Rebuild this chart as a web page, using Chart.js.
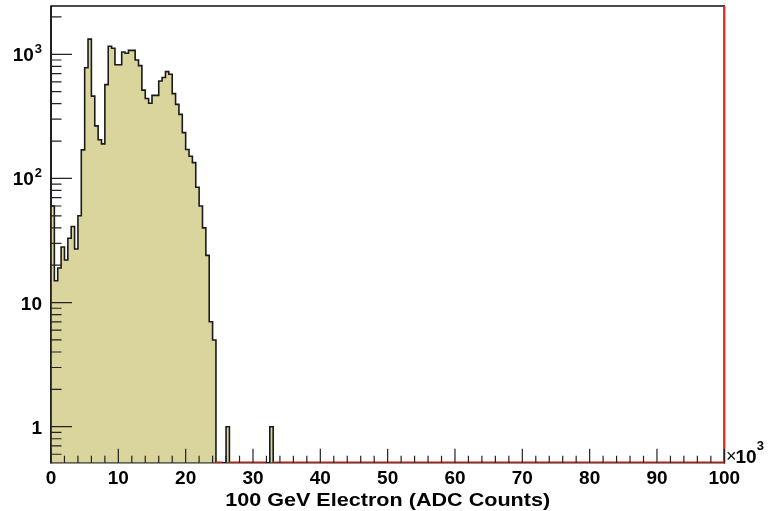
<!DOCTYPE html>
<html><head><meta charset="utf-8">
<script src="https://cdn.jsdelivr.net/npm/chart.js@4/dist/chart.umd.min.js"></script>
<style>html,body{margin:0;padding:0;background:#fff;overflow:hidden}</style>
</head><body>
<canvas id="c" width="773" height="511"></canvas>
<script>
// ---- data (x in units of 10^3 ADC counts) ----
const xLow = 0;
const xHigh = 100;
const binWidth = 0.5;
const counts = [
  60, 15, 19, 28, 22, 33, 41, 27, 50, 170,
  780, 1325, 460, 265, 205, 190, 570, 1160, 1120, 825,
  825, 1045, 1020, 1075, 1075, 900, 810, 515, 440, 403,
  467, 467, 610, 650, 725, 690, 482, 395, 328, 234,
  171, 151, 134, 85, 60, 40, 24, 7, 5, 0,
  0, 0, 1, 0, 0, 0, 0, 0, 0, 0,
  0, 0, 0, 0, 0, 1, 0, 0, 0, 0,
  0, 0, 0, 0, 0, 0, 0, 0, 0, 0,
  0, 0, 0, 0, 0, 0, 0, 0, 0, 0,
  0, 0, 0, 0, 0, 0, 0, 0, 0, 0,
  0, 0, 0, 0, 0, 0, 0, 0, 0, 0,
  0, 0, 0, 0, 0, 0, 0, 0, 0, 0,
  0, 0, 0, 0, 0, 0, 0, 0, 0, 0,
  0, 0, 0, 0, 0, 0, 0, 0, 0, 0,
  0, 0, 0, 0, 0, 0, 0, 0, 0, 0,
  0, 0, 0, 0, 0, 0, 0, 0, 0, 0,
  0, 0, 0, 0, 0, 0, 0, 0, 0, 0,
  0, 0, 0, 0, 0, 0, 0, 0, 0, 0,
  0, 0, 0, 0, 0, 0, 0, 0, 0, 0,
  0, 0, 0, 0, 0, 0, 0, 0, 0, 0
];
const xTickValues = [0, 10, 20, 30, 40, 50, 60, 70, 80, 90, 100];
const xTickLabels = ['0', '10', '20', '30', '40', '50', '60', '70', '80', '90', '100'];
const yTickValues = [1, 10, 100, 1000];
const yTickBase = ['1', '10', '10', '10'];
const yTickExp = ['', '', '2', '3'];
const xTitle = '100 GeV Electron (ADC Counts)';
const yMin = 0.513;
const yMax = 2450;

// ---- log scale that keeps empty bins (drawn at the axis floor) ----
class ZeroLogScale extends Chart.LogarithmicScale {
  parse(raw, index) {
    if (raw === 0) return 0;
    return super.parse(raw, index);
  }
}
ZeroLogScale.id = 'zerolog';
ZeroLogScale.defaults = Chart.LogarithmicScale.defaults;
Chart.register(ZeroLogScale);

const points = counts.map((c, i) => ({ x: xLow + i * binWidth, y: c }));
points.push({ x: xHigh, y: counts[counts.length - 1] });

const FONT = '"Liberation Sans", Arial, Helvetica, sans-serif';
const RED = '#e3261b';

const rootAxes = {
  id: 'rootAxes',
  beforeDatasetsDraw(chart) {
    const { ctx, chartArea: a } = chart;
    ctx.save();
    ctx.strokeStyle = '#111';
    ctx.lineWidth = 1.5;
    ctx.strokeRect(a.left, a.top, a.right - a.left, a.bottom - a.top);
    ctx.restore();
  },
  afterDatasetsDraw(chart) {
    const { ctx, chartArea: a, scales: { x, y } } = chart;
    ctx.save();
    ctx.strokeStyle = '#111';
    ctx.lineWidth = 1.5;
    ctx.beginPath(); ctx.moveTo(a.left, a.top); ctx.lineTo(a.left, a.bottom + 0.75); ctx.stroke();
    ctx.strokeStyle = RED; ctx.lineWidth = 2;
    ctx.beginPath(); ctx.moveTo(a.right, a.top); ctx.lineTo(a.right, a.bottom + 1); ctx.stroke();

    // inward ticks
    ctx.strokeStyle = '#222'; ctx.lineWidth = 1.2;
    ctx.beginPath();
    for (let v = xLow; v <= xHigh; v += 2) {
      const px = x.getPixelForValue(v);
      const len = (v % 10 === 0) ? 14 : 7;
      ctx.moveTo(px, a.bottom); ctx.lineTo(px, a.bottom - len);
    }
    for (let d = 0.1; d <= 1000; d *= 10) {
      for (let m = 1; m <= 9; m++) {
        const v = m * d;
        if (v < yMin || v > yMax) continue;
        const py = y.getPixelForValue(v);
        const len = m === 1 ? 21 : 10.5;
        ctx.moveTo(a.left, py); ctx.lineTo(a.left + len, py);
      }
    }
    ctx.stroke();
    ctx.restore();
  },
  afterDraw(chart) {
    const { ctx, chartArea: a, scales: { x, y } } = chart;
    ctx.save();
    ctx.fillStyle = '#000';
    // x tick labels
    ctx.font = 'bold 19px ' + FONT;
    ctx.textAlign = 'center';
    ctx.textBaseline = 'alphabetic';
    xTickValues.forEach((v, i) => {
      ctx.fillText(xTickLabels[i], x.getPixelForValue(v), 483.5);
    });
    // x title (stretched to the reference width)
    ctx.font = 'bold 19px ' + FONT;
    const tw = ctx.measureText(xTitle).width;
    ctx.save();
    ctx.translate((a.left + a.right) / 2, 506);
    ctx.scale(325 / tw, 1);
    ctx.fillText(xTitle, 0, 0);
    ctx.restore();
    // y tick labels
    yTickValues.forEach((v, i) => {
      const py = y.getPixelForValue(v);
      ctx.textAlign = 'right';
      ctx.textBaseline = 'alphabetic';
      if (yTickExp[i]) {
        ctx.font = 'bold 13px ' + FONT;
        ctx.fillText(yTickExp[i], 42, py - 1);
        const w = ctx.measureText(yTickExp[i]).width;
        ctx.font = 'bold 19px ' + FONT;
        ctx.fillText(yTickBase[i], 41 - w, py + 7);
      } else {
        ctx.font = 'bold 19px ' + FONT;
        ctx.fillText(yTickBase[i], 42, py + 7);
      }
    });
    // x10^3 multiplier
    ctx.textAlign = 'left';
    ctx.font = '18px ' + FONT;
    let cx = 726;
    ctx.fillText('\u00d7', cx, 462);
    cx += ctx.measureText('\u00d7').width - 1;
    ctx.font = 'bold 19px ' + FONT;
    ctx.fillText('10', cx, 463);
    cx += ctx.measureText('10').width;
    ctx.font = 'bold 13px ' + FONT;
    ctx.fillText('3', cx, 450);
    ctx.restore();
  }
};

new Chart(document.getElementById('c'), {
  type: 'line',
  data: {
    datasets: [{
      label: 'ADC',
      data: points,
      stepped: true,
      fill: 'start',
      backgroundColor: '#d9d59c',
      borderColor: '#1a1a1a',
      borderWidth: 1.6,
      pointRadius: 0,
      tension: 0,
      segment: {
        borderColor: (c) => (c.p0.parsed.y === 0 && c.p1.parsed.y === 0) ? RED : '#1a1a1a',
        borderWidth: (c) => (c.p0.parsed.y === 0 && c.p1.parsed.y === 0) ? 2.2 : 1.6
      }
    }]
  },
  options: {
    responsive: false,
    animation: false,
    devicePixelRatio: 1,
    layout: { padding: { top: 6, right: 48.7, bottom: 0, left: 0 } },
    plugins: { legend: { display: false }, tooltip: { enabled: false } },
    scales: {
      x: {
        type: 'linear', min: xLow, max: xHigh,
        grid: { display: false }, border: { display: false },
        ticks: { display: false },
        afterFit: (s) => { s.height = 48.3; }
      },
      y: {
        type: 'zerolog', min: yMin, max: yMax,
        grid: { display: false }, border: { display: false },
        ticks: { display: false },
        afterFit: (s) => { s.width = 51; }
      }
    }
  },
  plugins: [rootAxes]
});
</script>
</body></html>
